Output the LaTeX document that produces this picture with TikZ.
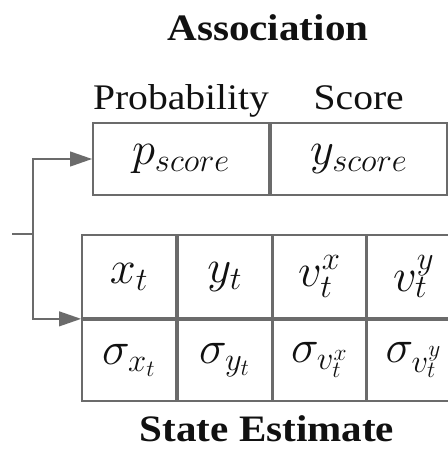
\RequirePackage{fix-cm}
\documentclass[tikz,border=0pt]{standalone}
\usepackage{fontspec}
\setmainfont[FakeStretch=1.1]{Liberation Serif}
\usetikzlibrary{arrows.meta,positioning}
\definecolor{tabInk}{HTML}{111111}
\definecolor{tabLine}{HTML}{6B6B6B}
\tikzset{
  every picture/.style={text=tabInk},
  tab title/.style={font=\fontsize{28}{32}\selectfont\bfseries, inner sep=0pt},
  tab head/.style={font=\fontsize{27}{31}\selectfont, inner sep=0pt,
    text height=0.72em, text depth=0.22em},
  tab cell/.style={draw=tabLine, line width=1.3pt, fill=white, inner sep=0pt,
    font=\fontsize{35}{40}\selectfont},
  flow line/.style={draw=tabLine, line width=1.5pt},
  flow arrow/.style={flow line, -{Triangle[length=16.5pt,width=11pt]}}
}

\begin{document}
\begin{tikzpicture}[x=0.75pt,y=-0.75pt]
  \useasboundingbox (0,0) rectangle (447,450);
  % association record
  \node[tab cell, minimum width=176*0.75pt, minimum height=72*0.75pt] (pscore) at (181,159) {$p_{score}$};
  \node[tab cell, minimum width=176*0.75pt, minimum height=72*0.75pt, right=0pt of pscore] (yscore) {$y_{score}$};
  \node[tab head, above=7pt of pscore] (probtext) {Probability};
  \node[tab head, above=7pt of yscore] (scoretext) {Score};
  \node[tab title, anchor=base] (assoc) at (268,40) {Association};
  % state estimate table
  \node[tab cell, minimum width=94*0.75pt, minimum height=83*0.75pt] (xt) at (129,276.5) {$x_t$};
  \node[tab cell, minimum width=94*0.75pt, minimum height=83*0.75pt, right=0pt of xt] (yt) {$y_t$};
  \node[tab cell, minimum width=92*0.75pt, minimum height=83*0.75pt, right=0pt of yt] (vx) {$v_t^x$};
  \node[tab cell, minimum width=93*0.75pt, minimum height=83*0.75pt, right=0pt of vx] (vy) {$v_t^y$};
  \node[tab cell, minimum width=94*0.75pt, minimum height=81*0.75pt, below=0pt of xt] (sxt) {$\sigma_{x_t}$};
  \node[tab cell, minimum width=94*0.75pt, minimum height=81*0.75pt, below=0pt of yt] (syt) {$\sigma_{y_t}$};
  \node[tab cell, minimum width=92*0.75pt, minimum height=81*0.75pt, below=0pt of vx] (svx) {$\sigma_{v_t^x}$};
  \node[tab cell, minimum width=93*0.75pt, minimum height=81*0.75pt, below=0pt of vy] (svy) {$\sigma_{v_t^y}$};
  \node[tab title, anchor=base] (state) at (267,441) {State Estimate};
  % input split
  \coordinate (in) at (12,234);
  \coordinate (split) at (33,234);
  \draw[flow line] (in) -- (split);
  \draw[flow arrow] (split) |- (pscore.west);
  \draw[flow arrow] (split) |- (xt.south west);
\end{tikzpicture}
\end{document}
